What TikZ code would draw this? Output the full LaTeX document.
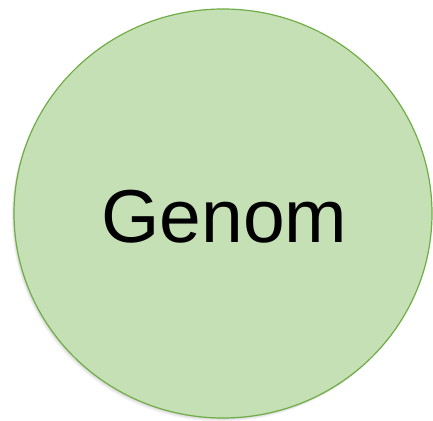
\documentclass[tikz,border=0pt]{standalone}
\usepackage{fontspec}
\usetikzlibrary{shapes.geometric}
\setmainfont{Liberation Sans}
\definecolor{gfill}{HTML}{C5E0B4}
\definecolor{gline}{HTML}{70AD47}
\tikzset{
  blob/.style={draw=gline, fill=gfill, line width=1.2pt, ellipse, inner sep=0pt},
  lbl/.style={font=\fontsize{75}{80}\selectfont, text=black, anchor=base, inner sep=0pt}
}
\begin{document}
\begin{tikzpicture}[x=1pt,y=1pt]
\useasboundingbox (0,0) rectangle (433,420);
\foreach \k/\o in {1/0.06,2/0.05,3/0.04,4/0.03}{
  \fill[black, opacity=\o] (223-\k*0.6,206.5-\k*0.9) ellipse [x radius=209, y radius=204.5];
}
\node[blob, minimum width=418pt, minimum height=409pt] (c) at (223,206.5) {};
\node[lbl] (t) at (224.5,177) {Genom};
\end{tikzpicture}
\end{document}
